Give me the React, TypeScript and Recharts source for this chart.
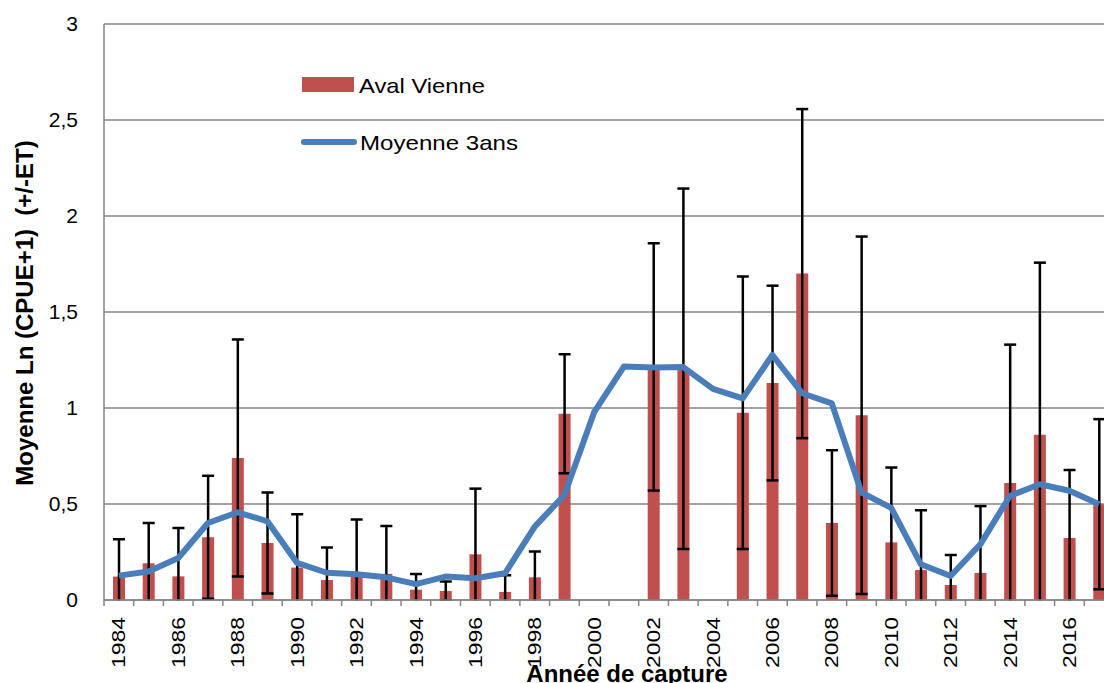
import React from 'react';
import { ComposedChart, Bar, Line, XAxis, YAxis, CartesianGrid, ErrorBar, Legend } from 'recharts';

const years = [
  '1984', '1985', '1986', '1987', '1988', '1989', '1990', '1991', '1992', '1993',
  '1994', '1995', '1996', '1997', '1998', '1999', '2000', '2001', '2002', '2003',
  '2004', '2005', '2006', '2007', '2008', '2009', '2010', '2011', '2012', '2013',
  '2014', '2015', '2016', '2017',
];

// Aval Vienne : moyenne Ln(CPUE+1)
const avalVienne = [
  0.122, 0.191, 0.123, 0.327, 0.74, 0.297, 0.169, 0.104, 0.14, 0.136,
  0.054, 0.047, 0.238, 0.042, 0.118, 0.97, null, null, 1.214, 1.204,
  null, 0.975, 1.13, 1.7, 0.401, 0.962, 0.3, 0.156, 0.078, 0.141,
  0.609, 0.861, 0.323, 0.499,
];

// écart-type
const ecartType = [
  0.194, 0.21, 0.252, 0.32, 0.617, 0.263, 0.278, 0.169, 0.279, 0.25,
  0.082, 0.05, 0.342, 0.087, 0.134, 0.31, null, null, 0.644, 0.939,
  null, 0.71, 0.507, 0.857, 0.379, 0.931, 0.39, 0.311, 0.157, 0.348,
  0.721, 0.896, 0.354, 0.443,
];

// moyenne glissante 3 ans
const moyenne3ans = [
  0.127, 0.148, 0.219, 0.401, 0.457, 0.41, 0.193, 0.142, 0.134, 0.118,
  0.083, 0.122, 0.113, 0.139, 0.382, 0.547, 0.978, 1.216, 1.211, 1.213,
  1.1, 1.05, 1.276, 1.077, 1.024, 0.56, 0.48, 0.186, 0.125, 0.29,
  0.543, 0.603, 0.569, 0.499,
];

const yTicks = [0, 0.5, 1, 1.5, 2, 2.5, 3];

const data = years.map((year, i) => ({
  year,
  aval: avalVienne[i],
  et: ecartType[i],
  moy: moyenne3ans[i],
}));

const FONT = '"Liberation Sans", Arial, sans-serif';
const GRID = '#868686';
const PLOT_LEFT = 104;
const PLOT_BOTTOM = 600;
const BAND = 29.7;
const CHART_W = Math.round(PLOT_LEFT + BAND * years.length);

// ticks between categories, labels every other year (Excel style)
const XTick = ({ x, y, payload, index }: any) => (
  <g>
    <line x1={x - BAND / 2} x2={x - BAND / 2} y1={y} y2={y + 6} stroke={GRID} strokeWidth={1.5} />
    {index % 2 === 0 && (
      <text
        x={x}
        y={y + 68}
        transform={`rotate(-90, ${x}, ${y + 68})`}
        textAnchor="start"
        dy="0.35em"
        fontSize={19}
        fontFamily={FONT}
        fill="#000"
        textLength={51}
        lengthAdjust="spacingAndGlyphs"
      >
        {payload.value}
      </text>
    )}
  </g>
);

const LegendBox = () => (
  <svg width={260} height={100}>
    <rect x={22} y={17} width={52} height={15} fill="#C0504D" />
    <text x={79} y={32.5} fontSize={21} fontFamily={FONT} fill="#000" textLength={126} lengthAdjust="spacingAndGlyphs">
      Aval Vienne
    </text>
    <line x1={24} x2={74} y1={82} y2={82} stroke="#4A7EBB" strokeWidth={6} strokeLinecap="round" />
    <text x={80} y={89.5} fontSize={21} fontFamily={FONT} fill="#000" textLength={158} lengthAdjust="spacingAndGlyphs">
      Moyenne 3ans
    </text>
  </svg>
);

export default function App() {
  return (
    <div style={{ position: 'absolute', left: 0, top: 0, width: 1104, height: 683, overflow: 'hidden', background: '#fff' }}>
      {/* error bars are cut at the x axis, like in the spreadsheet */}
      <svg width={0} height={0} style={{ position: 'absolute' }}>
        <defs>
          <clipPath id="ebClip">
            <rect x={0} y={0} width={2000} height={PLOT_BOTTOM + 0.5} />
          </clipPath>
        </defs>
      </svg>
      <style>{'.recharts-errorBar, .recharts-errorBars { clip-path: url(#ebClip); }'}</style>
      <ComposedChart
        width={CHART_W}
        height={683}
        data={data}
        margin={{ top: 24, right: 0, left: 0, bottom: 0 }}
      >
        <CartesianGrid vertical={false} stroke={GRID} strokeWidth={1.5} />
        <XAxis
          dataKey="year"
          interval={0}
          height={83}
          tickLine={false}
          tickSize={0}
          tickMargin={0}
          axisLine={{ stroke: GRID, strokeWidth: 1.5 }}
          tick={<XTick />}
          label={{
            content: () => (
              <text x={627} y={682} textAnchor="middle" fontSize={24} fontWeight="bold" fontFamily={FONT} fill="#000">
                Année de capture
              </text>
            ),
          }}
        />
        <YAxis
          width={PLOT_LEFT}
          domain={[0, 3]}
          ticks={yTicks}
          allowDataOverflow
          tickLine={false}
          tickSize={0}
          tickMargin={26}
          axisLine={{ stroke: GRID, strokeWidth: 1.5 }}
          tick={{ fontSize: 21, fontFamily: FONT, fill: '#000' }}
          tickFormatter={(v: number) => String(v).replace('.', ',')}
          label={{
            content: () => (
              <text
                x={33}
                y={313}
                transform="rotate(-90, 33, 313)"
                textAnchor="middle"
                fontSize={24}
                fontWeight="bold"
                fontFamily={FONT}
                fill="#000"
                style={{ whiteSpace: 'pre' }}
              >
                Moyenne Ln (CPUE+1)  (+/-ET)
              </text>
            ),
          }}
        />
        <Legend
          layout="vertical"
          align="center"
          verticalAlign="middle"
          content={<LegendBox />}
          wrapperStyle={{ left: 280, top: 60, width: 260, height: 100 }}
        />
        <Bar dataKey="aval" name="Aval Vienne" fill="#C0504D" barSize={12} isAnimationActive={false}>
          <ErrorBar dataKey="et" width={6} stroke="#000" strokeWidth={2.5} direction="y" />
        </Bar>
        <Line
          dataKey="moy"
          name="Moyenne 3ans"
          type="linear"
          stroke="#4A7EBB"
          strokeWidth={6}
          strokeLinejoin="round"
          dot={false}
          isAnimationActive={false}
        />
      </ComposedChart>
    </div>
  );
}
